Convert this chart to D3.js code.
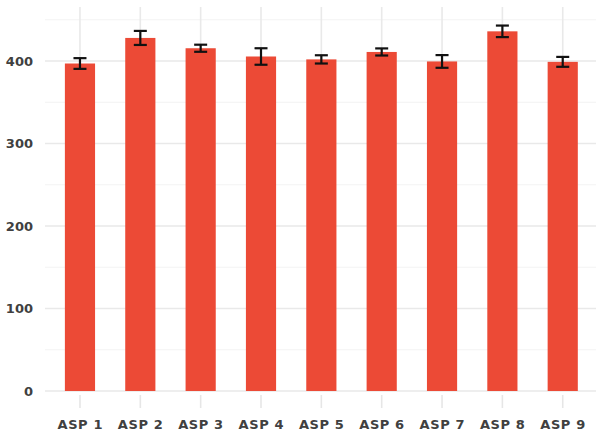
<!DOCTYPE html>
<html><head><meta charset="utf-8">
<script src="https://cdn.jsdelivr.net/npm/d3@7"></script>
<style>body{margin:0;background:#fff}svg{display:block}</style>
</head><body>
<svg id="c" width="596" height="432"></svg>
<script>
const categories = ["ASP 1","ASP 2","ASP 3","ASP 4","ASP 5","ASP 6","ASP 7","ASP 8","ASP 9"];
const means = [397, 428, 415.5, 405.5, 402, 411, 399.5, 436, 399];
const errors = [6.5, 8.5, 4.3, 10, 5, 4.3, 7.7, 7, 6];
const yTicks = [0, 100, 200, 300, 400];
const yMinor = [50, 150, 250, 350, 450];

(function () {
const svg = d3.select("#c");
const pLeft = 45, pRight = 596, pTop = 7, pBottom = 391;
const x = d3.scaleBand().domain(categories).range([49.8, 592.9])
  .paddingInner(0.5).paddingOuter(0.25);
const y = d3.scaleLinear().domain([0, 465.5]).range([pBottom, pTop]);

const g = svg.append("g");
g.selectAll(".ymin").data(yMinor).join("line")
  .attr("x1", pLeft).attr("x2", pRight)
  .attr("y1", d => y(d)).attr("y2", d => y(d))
  .attr("stroke", "#f3f3f3").attr("stroke-width", 1);
g.selectAll(".ymaj").data(yTicks).join("line")
  .attr("x1", pLeft).attr("x2", pRight)
  .attr("y1", d => y(d)).attr("y2", d => y(d))
  .attr("stroke", "#e9e9e9").attr("stroke-width", 1.6);
g.selectAll(".xmaj").data(categories).join("line")
  .attr("x1", d => x(d) + x.bandwidth()/2).attr("x2", d => x(d) + x.bandwidth()/2)
  .attr("y1", pTop).attr("y2", pBottom)
  .attr("stroke", "#e9e9e9").attr("stroke-width", 1.6);
g.selectAll(".xt").data(categories).join("line")
  .attr("x1", d => x(d) + x.bandwidth()/2).attr("x2", d => x(d) + x.bandwidth()/2)
  .attr("y1", pBottom + 4).attr("y2", pBottom + 17)
  .attr("stroke", "#e6e6e6").attr("stroke-width", 1.6);

g.selectAll(".bar").data(categories).join("rect")
  .attr("x", d => x(d)).attr("width", x.bandwidth())
  .attr("y", (d,i) => y(means[i])).attr("height", (d,i) => y(0) - y(means[i]))
  .attr("fill", "#EC4A36");

const cap = 6.5;
categories.forEach((c, i) => {
  const cx = x(c) + x.bandwidth()/2;
  const eg = g.append("g").attr("stroke", "#111").attr("stroke-width", 2.2);
  eg.append("line").attr("x1", cx).attr("x2", cx).attr("y1", y(means[i]+errors[i])).attr("y2", y(means[i]-errors[i]));
  eg.append("line").attr("x1", cx-cap).attr("x2", cx+cap).attr("y1", y(means[i]+errors[i])).attr("y2", y(means[i]+errors[i]));
  eg.append("line").attr("x1", cx-cap).attr("x2", cx+cap).attr("y1", y(means[i]-errors[i])).attr("y2", y(means[i]-errors[i]));
});

const font = "'DejaVu Sans', sans-serif";
g.selectAll(".yl").data(yTicks).join("text")
  .attr("x", 33).attr("y", d => y(d)).attr("dy", "0.36em")
  .attr("text-anchor", "end").attr("font-family", font).attr("font-weight", "bold")
  .attr("font-size", 13).attr("fill", "#404040").text(d => d);
g.selectAll(".xl").data(categories).join("text")
  .attr("x", d => x(d) + x.bandwidth()/2 + 0.3).attr("y", 428.5)
  .attr("text-anchor", "middle").attr("font-family", font).attr("font-weight", "bold")
  .attr("letter-spacing", 0.6)
  .attr("font-size", 13).attr("fill", "#404040").text(d => d);
})();
</script>
</body></html>
